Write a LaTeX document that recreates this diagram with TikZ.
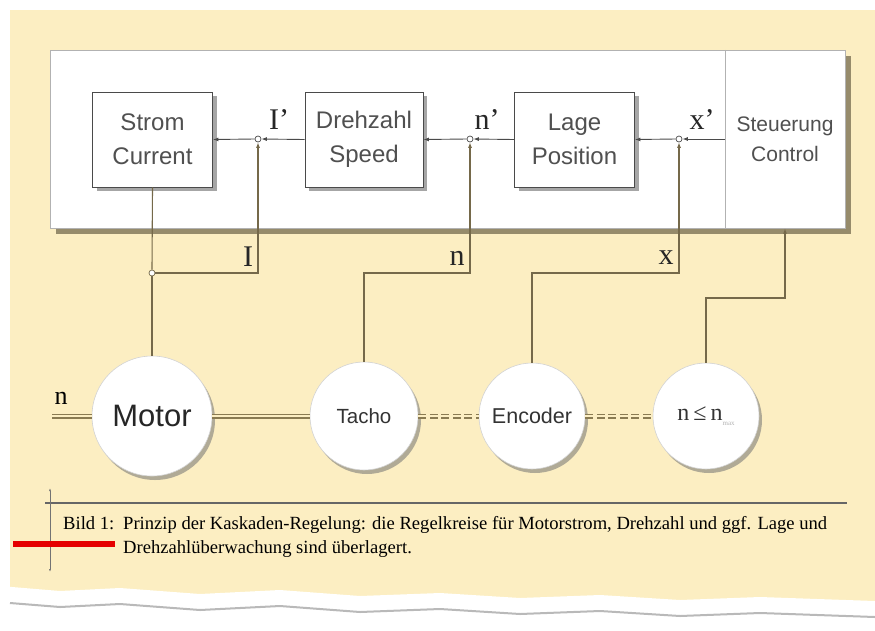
\documentclass[tikz,border=0pt]{standalone}
\usepackage{fontspec}
\setmainfont{Liberation Serif}
\setsansfont{Liberation Sans}
\usepackage{tikz}
\usetikzlibrary{arrows.meta,shadows}

\definecolor{paper}{HTML}{FCEEC2}
\definecolor{wire}{HTML}{4A4A4A}
\definecolor{shaft}{HTML}{8A7B52}
\definecolor{fbwire}{HTML}{75694A}
\definecolor{boxtext}{HTML}{505050}

\tikzset{
  block/.style={draw=wire, line width=0.9pt, fill=white, minimum width=120pt, minimum height=95pt,
    align=center, font=\sffamily\fontsize{24}{34}\selectfont, text=boxtext,
    drop shadow={shadow xshift=4pt, shadow yshift=-4pt, fill=black, opacity=.35}},
  junct/.style={circle, draw=wire, fill=white, line width=0.7pt, inner sep=0pt, minimum size=6pt},
  unit/.style={circle, draw=gray!35, line width=0.6pt, fill=white, inner sep=0pt, text=black!80,
    drop shadow={shadow xshift=3pt, shadow yshift=-4pt, fill=black!55, opacity=.55}},
  sig/.style={draw=wire, line width=0.9pt, -{Latex[length=5.5pt,width=4pt]}},
  fb/.style={draw=fbwire, line width=1.1pt},
  lbl/.style={font=\fontsize{30}{30}\selectfont, text=black!85, inner sep=0pt},
  shaftline/.style={draw=shaft, double=paper, double distance=2.6pt, line width=1.2pt},
}

\begin{document}
\begin{tikzpicture}[x=1pt,y=-1pt]
    \useasboundingbox (0,0) rectangle (875,630);
    \fill[white] (0,0) rectangle (875,630);
    \fill[paper] (10,10) rectangle (875,615);

    % white panel with the three controllers
    \node[draw=gray!60, fill=white, minimum width=795pt, minimum height=178pt,
      drop shadow={shadow xshift=6pt, shadow yshift=-6pt, fill=shaft!60!black, opacity=.6}]
      (panel) at (447.5,139) {};
    \node[align=center, font=\sffamily\fontsize{21}{30}\selectfont, text=boxtext,
      minimum width=120pt, minimum height=178pt] (ctrl) at (785,139) {Steuerung\\Control};
    \draw[gray!60] (ctrl.north west) -- (ctrl.south west);

    \node[block] (strom) at (152.5,139.5) {Strom\\Current};
    \node[block, minimum width=118pt] (speed) at (364,139.5) {Drehzahl\\Speed};
    \node[block] (lage) at (574.5,139.5) {Lage\\Position};

    \node[junct] (j1) at (258,139) {};
    \node[junct] (j2) at (470,139) {};
    \node[junct] (j3) at (679,139) {};

    \draw[sig] (ctrl.west) -- (j3.east);
    \draw[sig] (j3.west) -- (lage.east);
    \draw[sig] (lage.west) -- (j2.east);
    \draw[sig] (j2.west) -- (speed.east);
    \draw[sig] (speed.west) -- (j1.east);
    \draw[sig] (j1.west) -- (strom.east);

    \node[lbl] (iset) at (279,120) {I'};
    \node[lbl] (nset) at (487,120) {n'};
    \node[lbl] (xset) at (702,120) {x'};

    % motor and sensors
    \node[unit, minimum size=120pt, font=\sffamily\fontsize{31}{31}\selectfont, text=black!85] (motor) at (152,416) {Motor};
    \node[unit, minimum size=108pt, font=\sffamily\fontsize{20.5}{20.5}\selectfont] (tacho) at (364,416) {Tacho};
    \node[unit, minimum size=106pt, font=\sffamily\fontsize{21.5}{21.5}\selectfont] (enc) at (532,416) {Encoder};
    \node[unit, minimum size=106pt, font=\fontsize{24}{24}\selectfont] (nmax) at (706,416)
      {n\,≤\,n\raisebox{-5pt}{\fontsize{7}{7}\selectfont\color{black!30}max}};

    \coordinate (shaftend) at (52,416);
    \draw[shaftline] (shaftend) -- (motor.west);
    \draw[shaftline] (motor.east) -- (tacho.west);
    \draw[shaftline, dash pattern=on 8pt off 3.5pt] (tacho.east) -- (enc.west);
    \draw[shaftline, dash pattern=on 8pt off 3.5pt] (enc.east) -- (nmax.west);
    \node[font=\fontsize{26}{26}\selectfont, inner sep=0pt] (nshaft) at (61,398) {n};

    % feedback paths
    \node[junct, draw=fbwire] (m1) at (152,273) {};
    \coordinate (kn) at (470,273);
    \coordinate (kx) at (679,273);
    \coordinate (kc) at (785,298);
    \draw[fb] (strom.south) -- (m1.north);
    \draw[fb] (m1.south) -- (motor.north);
    \draw[fb, -{Latex[length=5.5pt,width=4pt]}] (m1.east) -| (j1.south);
    \draw[fb, -{Latex[length=5.5pt,width=4pt]}] (tacho.north) |- (kn) -- (j2.south);
    \draw[fb, -{Latex[length=5.5pt,width=4pt]}] (enc.north) |- (kx) -- (j3.south);
    \draw[fb, -{Latex[length=5.5pt,width=4pt]}] (nmax.north) |- (kc) -- (ctrl.south);

    \node[lbl] (ifb) at (248,257) {I};
    \node[lbl] (nfb) at (457,258) {n};
    \node[lbl] (xfb) at (666,258) {x};

    % caption
    \draw[black!60, line width=1.3pt] (45,503) -- (847,503);
    \draw[black!55, line width=0.8pt, {Latex[length=3pt,width=2pt]}-{Latex[length=3pt,width=2pt]}] (50,488) -- (50,572);
    \fill[red!90!black] (13,541) rectangle (115,547);
    \node[anchor=base west, inner sep=0pt, font=\fontsize{18.6}{24}\selectfont] (bild) at (63,529) {Bild 1:};
    \node[anchor=base west, inner sep=0pt, font=\fontsize{18.6}{24}\selectfont] (cap1) at (123,529)
      {Prinzip der Kaskaden-Regelung: die Regelkreise für Motorstrom, Drehzahl und ggf. Lage und};
    \node[anchor=base west, inner sep=0pt, font=\fontsize{18.6}{24}\selectfont] (cap2) at (123,553)
      {Drehzahlüberwachung sind überlagert.};

    % torn lower edge
    \fill[white] (0,586) -- (60,591) -- (120,588) -- (200,594) -- (280,590) -- (360,596)
      -- (440,593) -- (520,598) -- (600,595) -- (680,600) -- (760,597) -- (875,601)
      -- (875,630) -- (0,630) -- cycle;
    \draw[gray!55, line width=2pt] (10,603) -- (60,607) -- (120,604) -- (200,610) -- (280,606)
      -- (360,612) -- (440,609) -- (520,614) -- (600,611) -- (680,616) -- (760,613) -- (875,617);
\end{tikzpicture}
\end{document}
